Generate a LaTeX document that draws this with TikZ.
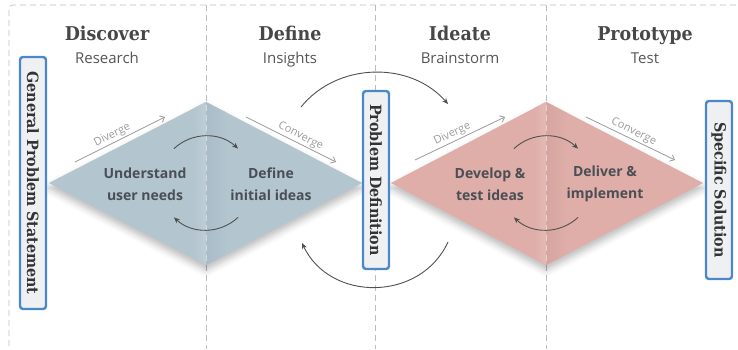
\documentclass[tikz,border=0pt]{standalone}
\usepackage{fontspec}
\setmainfont{Open Sans}
\newfontfamily\headfont[FakeStretch=0.92]{DejaVu Serif}
\usetikzlibrary{arrows.meta,shadows.blur}

\definecolor{dashgray}{HTML}{BDBDBD}
\definecolor{titlegray}{HTML}{474747}
\definecolor{subgray}{HTML}{555555}
\definecolor{blueD}{HTML}{B3C5CF}
\definecolor{blueFold}{HTML}{AABCC7}
\definecolor{redD}{HTML}{DFAEA8}
\definecolor{redFold}{HTML}{D6A59F}
\definecolor{innertext}{HTML}{4A4F55}
\definecolor{hintgray}{HTML}{9A9A9A}
\definecolor{boxfill}{HTML}{EEF0F1}
\definecolor{boxline}{HTML}{4A88CA}
\definecolor{arcgray}{HTML}{505050}

\begin{document}
\begin{tikzpicture}[x=1pt,y=1pt,
  title/.style={font=\headfont\bfseries\fontsize{19}{22}\selectfont, text=titlegray, anchor=base, inner sep=0},
  subtitle/.style={font=\fontsize{15}{18}\selectfont, text=subgray, anchor=base, inner sep=0},
  phasetext/.style={font=\bfseries\fontsize{14}{22}\selectfont, text=innertext, align=center, inner sep=0},
  hint/.style={font=\fontsize{11}{12}\selectfont, text=hintgray, sloped, above, inner sep=1.5pt},
  hintarrow/.style={draw=hintgray, line width=0.8pt, -{Straight Barb[length=4pt,width=7pt]}},
  loop/.style={draw=arcgray, line width=0.9pt, -{Stealth[length=6pt,width=5pt]}},
  milestone/.style={draw=boxline, line width=2.4pt, fill=boxfill, rounded corners=3pt, rotate=-90,
    font=\headfont\bfseries\fontsize{15.5}{18}\selectfont, text=black!80, inner sep=0, minimum height=26pt},
  divider/.style={draw=dashgray, line width=0.8pt, dash pattern=on 6pt off 4pt},
  foldline/.style={draw=white, opacity=0.45, line width=0.8pt, dash pattern=on 6pt off 4pt, dash phase=7pt},
  diamondshadow/.style={blur shadow={shadow xshift=0pt, shadow yshift=-5pt, shadow blur radius=7pt, shadow opacity=28}}
]
\useasboundingbox (0,0) rectangle (738,-349);

% frame and phase dividers
\draw[divider, rounded corners=4pt] (9,-346) -- (9,-5) -- (738,-5);
\foreach \x in {206,375,546} \draw[divider] (\x,-5) -- (\x,-349);

% first diamond: problem space
\coordinate (dL1) at (49,-183);
\coordinate (dT1) at (206,-102);
\coordinate (dR1) at (362,-183);
\coordinate (dB1) at (206,-265);
\fill[blueD, diamondshadow] (dL1) -- (dT1) -- (dR1) -- (dB1) -- cycle;
\begin{scope}
  \clip (dL1) -- (dT1) -- (dR1) -- (dB1) -- cycle;
  \shade[left color=blueFold, right color=blueD] (206,-100) rectangle (228,-267);
  \shade[left color=blueD, right color=blueD!85!white] (194,-100) rectangle (206,-267);
\end{scope}
\draw[foldline] (dT1) -- (dB1);

% second diamond: solution space
\coordinate (dL2) at (391,-183);
\coordinate (dT2) at (546,-102);
\coordinate (dR2) at (703,-183);
\coordinate (dB2) at (546,-265);
\fill[redD, diamondshadow] (dL2) -- (dT2) -- (dR2) -- (dB2) -- cycle;
\begin{scope}
  \clip (dL2) -- (dT2) -- (dR2) -- (dB2) -- cycle;
  \shade[left color=redFold, right color=redD] (546,-100) rectangle (568,-267);
  \shade[left color=redD, right color=redD!85!white] (534,-100) rectangle (546,-267);
\end{scope}
\draw[foldline] (dT2) -- (dB2);

% phase titles
\node[title] (discover) at (107,-40) {Discover};
\node[subtitle] (research) at (107,-63) {Research};
\node[title] (define) at (290,-40) {Define};
\node[subtitle] (insights) at (290,-63) {Insights};
\node[title] (ideate) at (460,-40) {Ideate};
\node[subtitle] (brainstorm) at (460,-63) {Brainstorm};
\node[title] (prototype) at (645,-40) {Prototype};
\node[subtitle] (test) at (645,-63) {Test};

% activities inside the diamonds
\node[phasetext] (understand) at (145,-184) {Understand\\user needs};
\node[phasetext] (defineideas) at (271,-184) {Define\\initial ideas};
\node[phasetext] (develop) at (490,-184) {Develop \&\\test ideas};
\node[phasetext] (deliver) at (605,-184) {Deliver \&\\implement};

% diverge / converge hints
\coordinate (dv1s) at (75,-162);  \coordinate (dv1e) at (165,-117);
\coordinate (cv1s) at (246,-117); \coordinate (cv1e) at (336,-162);
\coordinate (dv2s) at (415,-160); \coordinate (dv2e) at (505,-117);
\coordinate (cv2s) at (586,-117); \coordinate (cv2e) at (675,-160);
\draw[hintarrow] (dv1s) -- node[hint, pos=0.45] {Diverge} (dv1e);
\draw[hintarrow] (cv1s) -- node[hint, pos=0.57] {Converge} (cv1e);
\draw[hintarrow] (dv2s) -- node[hint, pos=0.45] {Diverge} (dv2e);
\draw[hintarrow] (cv2s) -- node[hint, pos=0.5] {Converge} (cv2e);

% iteration loops inside each diamond
\coordinate (c1) at (206,-183);
\coordinate (c2) at (546,-183);
\draw[loop] (c1) ++(133:47) coordinate (l1a) arc[start angle=133, end angle=47, radius=47];
\draw[loop] (c1) ++(-47:47) coordinate (l1b) arc[start angle=-47, end angle=-133, radius=47];
\draw[loop] (c2) ++(133:47) coordinate (l2a) arc[start angle=133, end angle=47, radius=47];
\draw[loop] (c2) ++(-47:47) coordinate (l2b) arc[start angle=-47, end angle=-133, radius=47];

% forward and backward loops between the diamonds
\coordinate (fwdS) at (301,-107);
\coordinate (fwdE) at (448,-104);
\coordinate (backS) at (448,-242);
\coordinate (backE) at (302,-243);
\draw[loop] (fwdS) to[bend left=50] (fwdE);
\draw[loop] (backS) to[bend left=65, looseness=1.15] (backE);

% milestone boxes
\node[milestone, minimum width=252pt] (general) at (33,-183) {General Problem Statement};
\node[milestone, minimum width=178pt] (probdef) at (376,-180) {Problem Definition};
\node[milestone, minimum width=178pt] (specific) at (719,-190) {Specific Solution};
\end{tikzpicture}
\end{document}
